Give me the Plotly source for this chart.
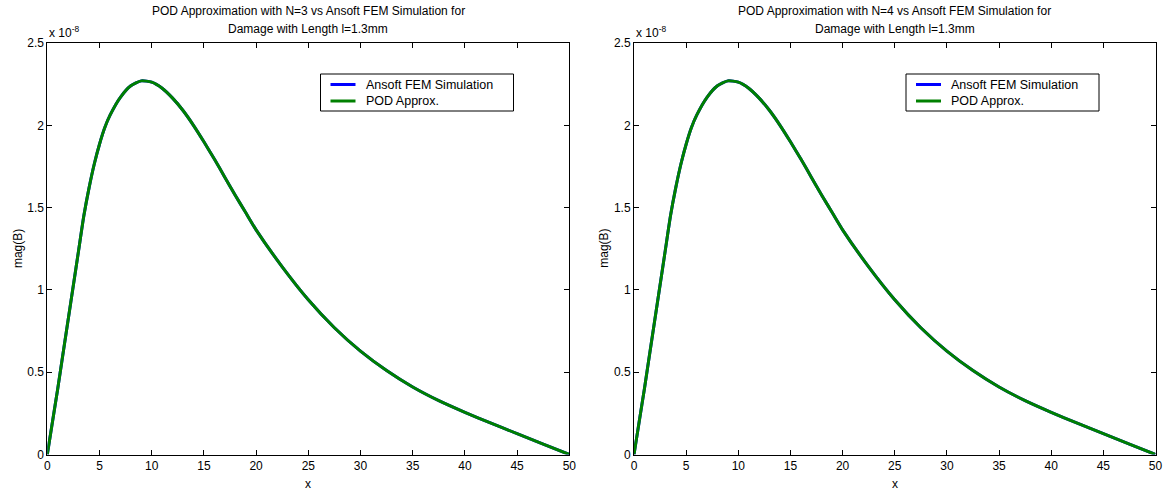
import plotly.graph_objects as go

# ---- data (mag(B) in units of 1e-8) ----
x_vals = [0, 0.5, 1, 1.5, 2, 2.5, 3, 3.5, 4, 4.5, 5, 5.5, 6, 7, 8, 9, 10, 11, 12, 13,
          14, 15, 16, 17, 18, 19, 20, 22.5, 25, 27.5, 30, 32.5, 35, 37.5, 40, 42.5,
          45, 47.5, 50]
fem_vals = [0, 0.20, 0.40, 0.61, 0.82, 1.03, 1.24, 1.45, 1.62, 1.765, 1.885, 1.985,
            2.06, 2.17, 2.24, 2.27, 2.262, 2.225, 2.165, 2.09, 2.00, 1.90, 1.795, 1.685,
            1.575, 1.47, 1.365, 1.14, 0.94, 0.77, 0.628, 0.51, 0.41, 0.327, 0.256, 0.19,
            0.127, 0.063, 0]
pod3_vals = list(fem_vals)
pod4_vals = list(fem_vals)

series_names = ["Ansoft FEM Simulation", "POD Approx."]
series_colors = ["#0000ff", "#008000"]

titles = ["POD Approximation with N=3 vs Ansoft FEM Simulation for",
          "POD Approximation with N=4 vs Ansoft FEM Simulation for"]
subtitle = "Damage with Length l=1.3mm"
x_ticks = [0, 5, 10, 15, 20, 25, 30, 35, 40, 45, 50]
y_ticks = [0, 0.5, 1, 1.5, 2, 2.5]
y_tick_text = ["0", "0.5", "1", "1.5", "2", "2.5"]

W, H = 1173, 492
FONT = "Liberation Sans, Arial, Helvetica, sans-serif"

def px_x(p):
    return p / W

def px_y(p):
    return (H - p) / H

dom1 = [px_x(47.3), px_x(569.3)]
dom2 = [px_x(634.0), px_x(1155.5)]
ydom = [px_y(454.5), px_y(43.0)]

fig = go.Figure()
panels = [("x", "y", pod3_vals), ("x2", "y2", pod4_vals)]
for xa_id, ya_id, pod in panels:
    for name, color, vals in zip(series_names, series_colors, [fem_vals, pod]):
        fig.add_trace(go.Scatter(x=x_vals, y=vals, mode="lines", name=name,
                                 line=dict(color=color, width=3, shape="spline", smoothing=0.6),
                                 xaxis=xa_id, yaxis=ya_id, showlegend=False))

axis_common = dict(showline=True, linecolor="black", linewidth=1, mirror="ticks",
                   ticks="inside", ticklen=5, tickcolor="black", tickwidth=1,
                   showgrid=False, zeroline=False, automargin=False,
                   tickfont=dict(family=FONT, size=12, color="black"))

xa = dict(range=[0, 50], tickvals=x_ticks, **axis_common)
ya = dict(range=[0, 2.5], tickvals=y_ticks, ticktext=y_tick_text, **axis_common)

fig.update_layout(
    width=W, height=H,
    margin=dict(l=0, r=0, t=0, b=0),
    paper_bgcolor="white", plot_bgcolor="white",
    font=dict(family=FONT, size=12, color="black"),
    showlegend=False,
    xaxis=dict(domain=dom1, anchor="y", **xa),
    yaxis=dict(domain=ydom, anchor="x", **ya),
    xaxis2=dict(domain=dom2, anchor="y2", **xa),
    yaxis2=dict(domain=ydom, anchor="x2", **ya),
)

annotations = []
shapes = []
for dom, t, leg_left in ((dom1, titles[0], 320.5), (dom2, titles[1], 906.0)):
    cx = (dom[0] + dom[1]) / 2
    annotations.append(dict(text=t, x=cx, y=px_y(10.5), xref="paper", yref="paper",
                            showarrow=False, xanchor="center", yanchor="middle",
                            font=dict(family=FONT, size=12)))
    annotations.append(dict(text=subtitle, x=cx, y=px_y(28.5), xref="paper", yref="paper",
                            showarrow=False, xanchor="center", yanchor="middle",
                            font=dict(family=FONT, size=12)))
    annotations.append(dict(text="x", x=cx, y=px_y(484), xref="paper", yref="paper",
                            showarrow=False, xanchor="center", yanchor="middle",
                            font=dict(family=FONT, size=12)))
    annotations.append(dict(text="x 10<sup>-8</sup>", x=dom[0], y=px_y(42), xref="paper",
                            yref="paper", showarrow=False, xanchor="left", yanchor="bottom",
                            font=dict(family=FONT, size=12)))
    annotations.append(dict(text="mag(B)", x=dom[0] - px_x(30), y=(ydom[0] + ydom[1]) / 2,
                            xref="paper", yref="paper", showarrow=False, textangle=-90,
                            xanchor="center", yanchor="middle",
                            font=dict(family=FONT, size=12)))
    # legend box
    shapes.append(dict(type="rect", xref="paper", yref="paper",
                       x0=px_x(leg_left), x1=px_x(leg_left + 193),
                       y0=px_y(111), y1=px_y(74),
                       line=dict(color="black", width=1), fillcolor="white", layer="above"))
    for i, (name, color) in enumerate(zip(series_names, series_colors)):
        yc = 84.5 + 16.5 * i
        shapes.append(dict(type="line", xref="paper", yref="paper",
                           x0=px_x(leg_left + 10), x1=px_x(leg_left + 35),
                           y0=px_y(yc), y1=px_y(yc),
                           line=dict(color=color, width=3), layer="above"))
        annotations.append(dict(text=name, x=px_x(leg_left + 43), y=px_y(yc),
                                xref="paper", yref="paper", showarrow=False,
                                xanchor="left", yanchor="middle",
                                font=dict(family=FONT, size=12.5)))

fig.update_layout(annotations=annotations, shapes=shapes)

fig.write_html("out.html")
